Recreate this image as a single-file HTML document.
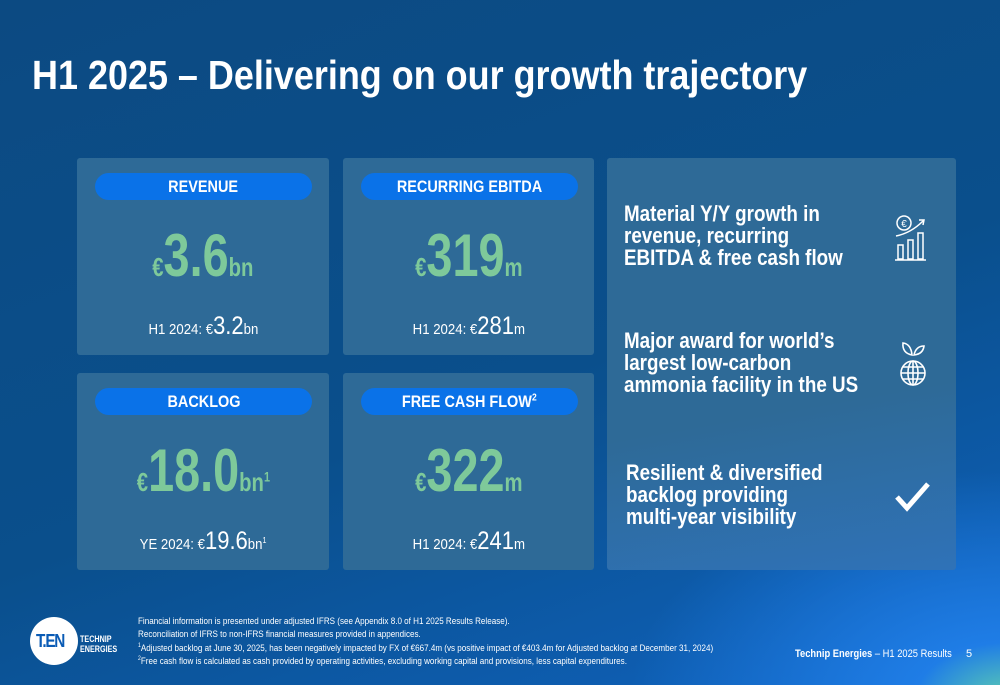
<!DOCTYPE html>
<html><head><meta charset="utf-8">
<style>
*{margin:0;padding:0;box-sizing:border-box}
body{width:1000px;height:685px;overflow:hidden;font-family:"Liberation Sans",sans-serif;color:#fff;
background:radial-gradient(ellipse 380px 230px at 1010px 700px,#5fd0b0 0%,#1f7de6 25%,rgba(20,100,210,0) 100%),linear-gradient(160deg,#0c4a82 0%,#0a4f8c 55%,#0d5aa8 80%,#0f63c0 100%);position:relative}
.abs{position:absolute}
.c{display:inline-block;transform-origin:center}
.l{display:inline-block;transform-origin:left top;white-space:nowrap}
sup{line-height:0}
h1{position:absolute;left:32px;top:52px;font-size:41px;font-weight:bold;white-space:nowrap}
.card{position:absolute;background:#2e6a97;border-radius:3px}
.pill{position:absolute;left:18px;top:15px;width:217px;height:27px;border-radius:14px;background:#0a72e8;text-align:center;font-weight:bold;font-size:17px;line-height:27px}
.pill .c{transform:scaleX(0.85)}
.big{position:absolute;left:0;width:100%;text-align:center;color:#7ec99a;font-weight:bold;white-space:nowrap}
.big .c{transform:scaleX(0.78)}
.big .n{font-size:60px}.big .s{font-size:26px}
.sub{position:absolute;left:0;width:100%;text-align:center;font-size:15px;white-space:nowrap}
.sub .c{transform:scaleX(0.88)}
.sub .n{font-size:25px}
.txt{position:absolute;left:17px;font-size:22px;font-weight:bold;line-height:22px}
.txt .l{transform:scaleX(0.855)}
.foot{position:absolute;left:138px;top:615px;font-size:9.5px;line-height:13.3px}
</style></head><body>
<h1><span class="l" style="transform:scaleX(0.877)">H1 2025 – Delivering on our growth trajectory</span></h1>

<div class="card" style="left:77px;top:158px;width:252px;height:197px">
<div class="pill"><span class="c">REVENUE</span></div>
<div class="big" style="top:63px"><span class="c"><span class="s">€</span><span class="n">3.6</span><span class="s">bn</span></span></div>
<div class="sub" style="top:154px"><span class="c">H1 2024: €<span class="n">3.2</span>bn</span></div>
</div>
<div class="card" style="left:343px;top:158px;width:251px;height:197px">
<div class="pill"><span class="c">RECURRING EBITDA</span></div>
<div class="big" style="top:63px"><span class="c"><span class="s">€</span><span class="n">319</span><span class="s">m</span></span></div>
<div class="sub" style="top:154px"><span class="c">H1 2024: €<span class="n">281</span>m</span></div>
</div>
<div class="card" style="left:77px;top:373px;width:252px;height:197px">
<div class="pill"><span class="c">BACKLOG</span></div>
<div class="big" style="top:63px"><span class="c"><span class="s">€</span><span class="n">18.0</span><span class="s">bn<sup style="font-size:14px">1</sup></span></span></div>
<div class="sub" style="top:154px"><span class="c">YE 2024: €<span class="n">19.6</span>bn<sup style="font-size:8px">1</sup></span></div>
</div>
<div class="card" style="left:343px;top:373px;width:251px;height:197px">
<div class="pill"><span class="c">FREE CASH FLOW<sup style="font-size:10px">2</sup></span></div>
<div class="big" style="top:63px"><span class="c"><span class="s">€</span><span class="n">322</span><span class="s">m</span></span></div>
<div class="sub" style="top:154px"><span class="c">H1 2024: €<span class="n">241</span>m</span></div>
</div>

<div class="card" style="left:607px;top:158px;width:349px;height:412px;background:linear-gradient(170deg,#2e6a97 60%,#2f72b8 100%)">
<div class="txt" style="top:45px"><span class="l">Material Y/Y growth in<br>revenue, recurring<br>EBITDA &amp; free cash flow</span></div>
<div class="txt" style="top:172px"><span class="l">Major award for world’s<br>largest low-carbon<br>ammonia facility in the US</span></div>
<div class="txt" style="left:19px;top:304px"><span class="l">Resilient &amp; diversified<br>backlog providing<br>multi-year visibility</span></div>
<svg class="abs" style="left:286px;top:55px" width="40" height="50" viewBox="0 0 40 50" fill="none" stroke="#fff" stroke-width="1.5">
<circle cx="11" cy="10" r="7"/><text x="11" y="14" font-size="10" fill="#fff" stroke="none" text-anchor="middle">€</text>
<path d="M3 23 Q18 20 30 8 M26 7 L31 7 L30 12"/><rect x="5" y="32" width="5" height="14"/><rect x="15" y="27" width="5" height="19"/><rect x="25" y="20" width="5" height="26"/><path d="M2 47 H33"/></svg>
<svg class="abs" style="left:291px;top:181px" width="32" height="52" viewBox="0 0 32 52" fill="none" stroke="#fff" stroke-width="1.6">
<path d="M14 16 Q4 14 5 4 Q13 5 14 16Z"/><path d="M16 16 Q18 7 26 7 Q25 15 16 16Z"/><circle cx="15" cy="34" r="12"/><ellipse cx="15" cy="34" rx="5" ry="12"/><path d="M3 34 H27 M5 28 H25 M5 40 H25 M15 22 V46"/></svg>
<svg class="abs" style="left:287px;top:323px" width="38" height="32" viewBox="0 0 38 32"><path d="M3 16 L13 27 L34 3" fill="none" stroke="#fff" stroke-width="5"/></svg>
</div>

<div class="abs" style="left:30px;top:617px;width:48px;height:48px;border-radius:50%;background:#fff"></div>
<div class="abs" style="left:36px;top:631px;font-size:18px;font-weight:bold;color:#0a5bb5;letter-spacing:-1.5px"><span class="l" style="transform:scaleX(0.85)">T.EN</span></div>
<div class="abs" style="left:80px;top:635px;font-size:9px;font-weight:bold;line-height:9.5px"><span class="l" style="transform:scaleX(0.8)">TECHNIP<br>ENERGIES</span></div>
<div class="foot"><span class="l" style="transform:scaleX(0.85)">Financial information is presented under adjusted IFRS (see Appendix 8.0 of H1 2025 Results Release).<br>Reconciliation of IFRS to non-IFRS financial measures provided in appendices.<br><sup style="font-size:6px">1</sup>Adjusted backlog at June 30, 2025, has been negatively impacted by FX of €667.4m (vs positive impact of €403.4m for Adjusted backlog at December 31, 2024)<br><sup style="font-size:6px">2</sup>Free cash flow is calculated as cash provided by operating activities, excluding working capital and provisions, less capital expenditures.</span></div>
<div class="abs" style="left:795px;top:648px;font-size:11px;white-space:nowrap"><span class="l" style="transform:scaleX(0.85)"><b>Technip Energies</b> – H1 2025 Results</span></div>
<div class="abs" style="left:966px;top:648px;font-size:11px">5</div>
</body></html>
